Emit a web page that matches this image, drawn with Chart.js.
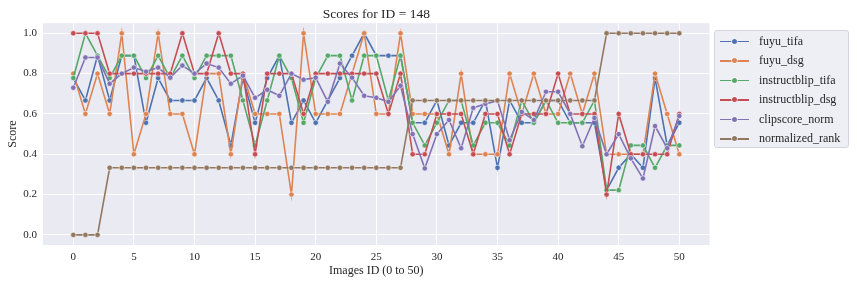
<!DOCTYPE html>
<html>
<head>
<meta charset="utf-8">
<script src="https://cdn.jsdelivr.net/npm/chart.js@4.4.1/dist/chart.umd.min.js"></script>
<style>
html, body { margin: 0; padding: 0; background: #fff; }
#wrap { position: relative; width: 857px; height: 286px; }
#legend {
    position: absolute; left: 714px; top: 30px; width: 135px; height: 118px;
    box-sizing: border-box; background: rgba(234, 234, 242, 0.8);
    border: 1px solid #d4d4dc; border-radius: 3px; padding-top: 0.5px;
    font-family: "Liberation Serif", serif; font-size: 12px; color: #262626;
}
.item { height: 19.5px; display: flex; align-items: center; white-space: nowrap; }
.swatch { position: relative; width: 29px; height: 10px; margin-left: 5px; margin-right: 10px; }
.swatch .ln { position: absolute; left: 0; right: 0; top: 4.25px; height: 1.5px; }
.swatch .dt { position: absolute; left: 12px; top: 2.5px; width: 5px; height: 5px; border-radius: 50%; box-shadow: 0 0 0 0.6px #fff; }
</style>
</head>
<body>
<div id="wrap">
    <canvas id="grafico" width="857" height="286"></canvas>
    <div id="legend"></div>
</div>
<script>
const imageIds = [0, 1, 2, 3, 4, 5, 6, 7, 8, 9, 10, 11, 12, 13, 14, 15, 16, 17, 18, 19, 20,
    21, 22, 23, 24, 25, 26, 27, 28, 29, 30, 31, 32, 33, 34, 35, 36, 37, 38, 39, 40,
    41, 42, 43, 44, 45, 46, 47, 48, 49, 50];

const fuyuTifa = [0.778, 0.667, 0.889, 0.667, 0.889, 0.889, 0.556, 0.778, 0.667, 0.667, 0.667,
    0.778, 0.667, 0.444, 0.778, 0.556, 0.778, 0.889, 0.556, 0.667, 0.556,
    0.667, 0.778, 0.889, 1.0, 0.889, 0.889, 0.889, 0.556, 0.556, 0.667,
    0.444, 0.556, 0.556, 0.667, 0.333, 0.667, 0.556, 0.556, 0.667, 0.667,
    0.556, 0.556, 0.556, 0.222, 0.333, 0.4, 0.333, 0.778, 0.444, 0.556];
const fuyuDsg = [0.8, 0.6, 0.8, 0.6, 1.0, 0.4, 0.6, 1.0, 0.6, 0.6, 0.4,
    0.8, 0.8, 0.4, 0.8, 0.6, 0.6, 0.6, 0.2, 1.0, 0.6,
    0.6, 0.6, 0.8, 1.0, 0.6, 0.6, 1.0, 0.6, 0.6, 0.6,
    0.4, 0.8, 0.4, 0.4, 0.4, 0.8, 0.6, 0.8, 0.6, 0.6,
    0.8, 0.6, 0.8, 0.4, 0.4, 0.4, 0.4, 0.8, 0.6, 0.4];
const instructblipTifa = [0.778, 1.0, 0.889, 0.778, 0.889, 0.889, 0.778, 0.889, 0.778, 0.889, 0.778,
    0.889, 0.889, 0.889, 0.667, 0.444, 0.667, 0.889, 0.778, 0.556, 0.778,
    0.889, 0.889, 0.667, 0.889, 0.889, 0.667, 0.889, 0.556, 0.444, 0.556,
    0.667, 0.667, 0.444, 0.556, 0.556, 0.444, 0.667, 0.556, 0.667, 0.556,
    0.556, 0.556, 0.667, 0.222, 0.222, 0.444, 0.444, 0.333, 0.444, 0.444];
const instructblipDsg = [1.0, 1.0, 1.0, 0.8, 0.8, 0.8, 0.8, 0.8, 0.8, 1.0, 0.8,
    0.8, 1.0, 0.8, 0.8, 0.4, 0.8, 0.8, 0.8, 0.6, 0.8,
    0.8, 0.8, 0.8, 0.8, 0.8, 0.6, 0.8, 0.4, 0.4, 0.6,
    0.6, 0.6, 0.4, 0.6, 0.6, 0.4, 0.6, 0.6, 0.6, 0.8,
    0.6, 0.6, 0.6, 0.2, 0.6, 0.4, 0.4, 0.4, 0.4, 0.6];
const clipscoreNorm = [0.73, 0.88, 0.88, 0.75, 0.8, 0.83, 0.81, 0.83, 0.78, 0.84, 0.8,
    0.85, 0.83, 0.75, 0.79, 0.68, 0.72, 0.69, 0.8, 0.77, 0.78,
    0.66, 0.85, 0.78, 0.69, 0.68, 0.66, 0.74, 0.5, 0.33, 0.5,
    0.57, 0.43, 0.63, 0.65, 0.665, 0.47, 0.61, 0.57, 0.71, 0.71,
    0.6, 0.44, 0.58, 0.4, 0.5, 0.38, 0.28, 0.54, 0.43, 0.59];
const normalizedRank = [0, 0, 0, 0.333, 0.333, 0.333, 0.333, 0.333, 0.333, 0.333, 0.333,
    0.333, 0.333, 0.333, 0.333, 0.333, 0.333, 0.333, 0.333, 0.333, 0.333,
    0.333, 0.333, 0.333, 0.333, 0.333, 0.333, 0.333, 0.667, 0.667, 0.667,
    0.667, 0.667, 0.667, 0.667, 0.667, 0.667, 0.667, 0.667, 0.667, 0.667,
    0.667, 0.667, 0.667, 1.0, 1.0, 1.0, 1.0, 1.0, 1.0, 1.0];

const seriesNames = ['fuyu_tifa', 'fuyu_dsg', 'instructblip_tifa', 'instructblip_dsg', 'clipscore_norm', 'normalized_rank'];
const seriesValues = [fuyuTifa, fuyuDsg, instructblipTifa, instructblipDsg, clipscoreNorm, normalizedRank];
const seriesColors = ['#4C72B0', '#DD8452', '#55A868', '#C44E52', '#8172B3', '#937860'];

const xTicks = [0, 5, 10, 15, 20, 25, 30, 35, 40, 45, 50];
const yTicks = [0.0, 0.2, 0.4, 0.6, 0.8, 1.0];

const serif = '"Liberation Serif", "Times New Roman", serif';
const textColor = '#262626';

// sfondo grigio della zona del grafico
const plotBg = {
    id: 'plotBg',
    beforeDraw(chart) {
        const { ctx, chartArea: a } = chart;
        ctx.save();
        ctx.fillStyle = '#EAEAF2';
        ctx.fillRect(a.left, a.top, a.width, a.height);
        ctx.restore();
    }
};

const datasets = seriesNames.map((name, i) => ({
    label: name,
    data: imageIds.map((id, k) => ({ x: id, y: seriesValues[i][k] })),
    borderColor: seriesColors[i],
    backgroundColor: seriesColors[i],
    pointBackgroundColor: seriesColors[i],
    pointBorderColor: '#fff',
    pointBorderWidth: 0.6,
    pointRadius: 2.7,
    borderWidth: 1.6,
    tension: 0,
    order: seriesNames.length - i
}));

new Chart(document.getElementById('grafico'), {
    type: 'line',
    data: { datasets: datasets },
    options: {
        responsive: false,
        animation: false,
        layout: { padding: { right: 147.4 } },
        plugins: {
            legend: { display: false },
            tooltip: { enabled: false },
            title: {
                display: true,
                fullSize: false,
                text: 'Scores for ID = 148',
                color: textColor,
                font: { family: serif, size: 13.5, weight: 'normal', lineHeight: 1.2 },
                padding: { top: 6, bottom: 1 }
            }
        },
        scales: {
            x: {
                type: 'linear',
                min: -2.5,
                max: 52.5,
                afterBuildTicks: s => { s.ticks = xTicks.map(v => ({ value: v })); },
                afterFit: s => { s.height = 41; },
                grid: { color: '#ffffff', lineWidth: 1, drawTicks: false },
                border: { display: false },
                ticks: { color: textColor, font: { family: serif, size: 11 }, padding: 6, maxRotation: 0 },
                title: {
                    display: true,
                    text: 'Images ID (0 to 50)',
                    color: textColor,
                    font: { family: serif, size: 12 },
                    padding: { top: 0, bottom: 8 }
                }
            },
            y: {
                min: -0.05,
                max: 1.05,
                afterBuildTicks: s => { s.ticks = yTicks.map(v => ({ value: v })); },
                afterFit: s => { s.width = 43; },
                grid: { color: '#ffffff', lineWidth: 1, drawTicks: false },
                border: { display: false },
                ticks: {
                    color: textColor,
                    font: { family: serif, size: 11 },
                    padding: 6,
                    callback: v => Number(v).toFixed(1)
                },
                title: {
                    display: true,
                    text: 'Score',
                    color: textColor,
                    font: { family: serif, size: 12 },
                    padding: { top: 6, bottom: 0 }
                }
            }
        }
    },
    plugins: [plotBg]
});

// legenda in html, a destra del grafico
const legend = document.getElementById('legend');
seriesNames.forEach((name, i) => {
    const item = document.createElement('div');
    item.className = 'item';
    item.innerHTML = '<span class="swatch"><span class="ln" style="background:' + seriesColors[i] +
        '"></span><span class="dt" style="background:' + seriesColors[i] + '"></span></span>' + name;
    legend.appendChild(item);
});
</script>
</body>
</html>
